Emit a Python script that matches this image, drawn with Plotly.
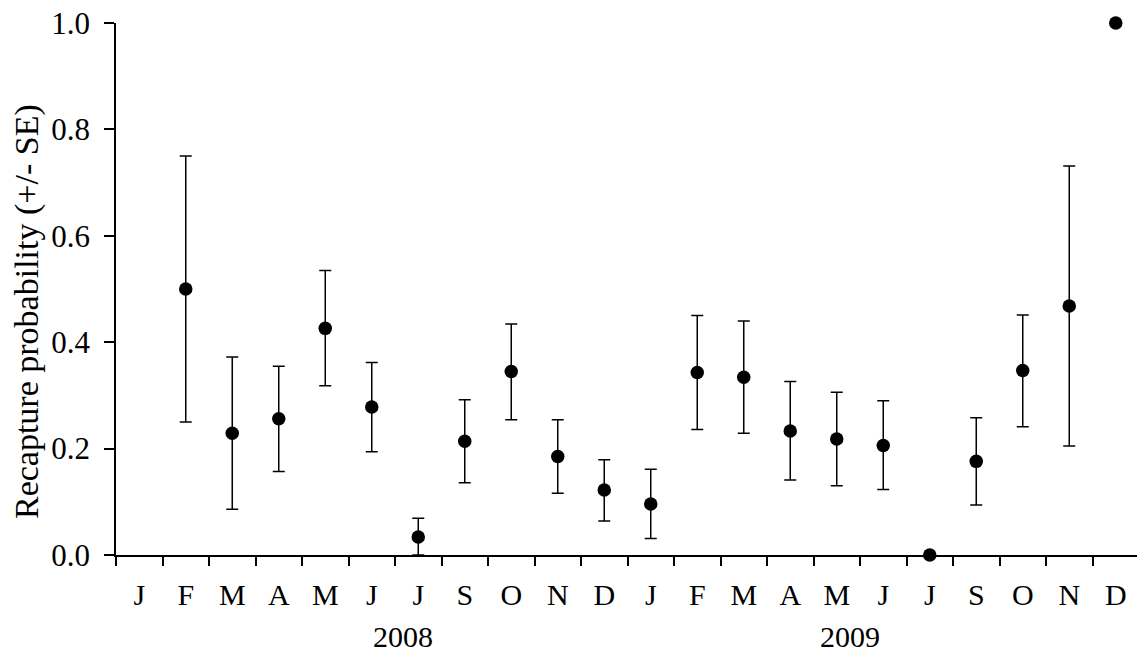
import plotly.graph_objects as go

months = ["J", "F", "M", "A", "M", "J", "J", "S", "O", "N", "D",
          "J", "F", "M", "A", "M", "J", "J", "S", "O", "N", "D"]
years = ["2008", "2009"]
prob = [None, 0.500, 0.229, 0.256, 0.426, 0.278, 0.034, 0.214, 0.345, 0.185, 0.122,
        0.096, 0.343, 0.334, 0.233, 0.218, 0.206, 0.000, 0.176, 0.347, 0.468, 1.000]
upper = [None, 0.750, 0.372, 0.355, 0.535, 0.362, 0.069, 0.292, 0.434, 0.254, 0.179,
         0.161, 0.450, 0.440, 0.326, 0.306, 0.290, 0.000, 0.258, 0.451, 0.731, 1.000]
lower = [None, 0.250, 0.086, 0.157, 0.318, 0.194, 0.000, 0.136, 0.254, 0.116, 0.064,
         0.031, 0.236, 0.229, 0.141, 0.130, 0.123, 0.000, 0.094, 0.241, 0.205, 1.000]

n = len(months)
xs = list(range(n))
err_plus = [None if p is None else u - p for p, u in zip(prob, upper)]
err_minus = [None if p is None else p - l for p, l in zip(prob, lower)]

FONT = "Liberation Serif, Times New Roman, serif"

fig = go.Figure()
fig.add_trace(go.Scatter(
    x=xs, y=prob, mode="markers",
    marker=dict(color="black", size=13.5),
    error_y=dict(type="data", symmetric=False, array=err_plus, arrayminus=err_minus,
                 color="black", thickness=1.5, width=6),
    cliponaxis=False, showlegend=False,
))

# the page body has an 8px default margin, so the figure is offset by 8px
fig.update_layout(
    width=1137, height=645,
    margin=dict(l=108, r=6, t=15, b=98, autoexpand=False),
    paper_bgcolor="white", plot_bgcolor="white",
    font=dict(family=FONT, size=30, color="black"),
    xaxis=dict(
        range=[-0.5, n - 0.5], automargin=False,
        tickmode="array", tickvals=xs, ticktext=months,
        ticks="", showgrid=False, zeroline=False,
        showline=True, linecolor="black", linewidth=1.5,
        tickfont=dict(family=FONT, size=30, color="black"),
        ticklabelstandoff=12,
        minor=dict(tickmode="array", tickvals=[i - 0.5 for i in range(n + 1)],
                   ticks="outside", ticklen=9, tickwidth=1.5, tickcolor="black",
                   showgrid=False),
    ),
    yaxis=dict(
        range=[0, 1.0], automargin=False,
        tickmode="array", tickvals=[0, 0.2, 0.4, 0.6, 0.8, 1.0],
        tickformat=".1f", ticks="outside", ticklen=10, tickwidth=1.5, tickcolor="black",
        showgrid=False, zeroline=False,
        showline=True, linecolor="black", linewidth=1.5,
        tickfont=dict(family=FONT, size=31, color="black"),
        ticklabelstandoff=8, ticklabeloverflow="allow",
    ),
)

year_pos = [0.2805, 0.7175]
for yr, xp in zip(years, year_pos):
    fig.add_annotation(text=yr, x=xp, y=-0.154, xref="paper", yref="paper",
                       showarrow=False, xanchor="center", yanchor="middle",
                       font=dict(family=FONT, size=30, color="black"))

fig.add_annotation(text="Recapture probability (+/- SE)", textangle=-90,
                   x=-0.087, y=0.4586, xref="paper", yref="paper",
                   showarrow=False, xanchor="center", yanchor="middle",
                   font=dict(family=FONT, size=34, color="black"))

fig.write_html("out.html")
